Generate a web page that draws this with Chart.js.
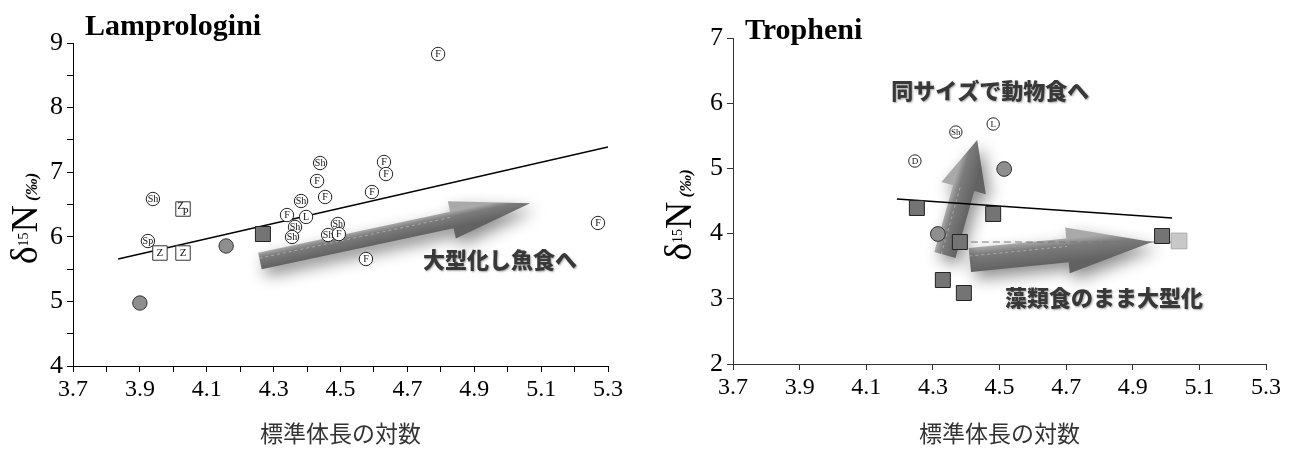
<!DOCTYPE html>
<html>
<head>
<meta charset="utf-8">
<script src="https://cdn.jsdelivr.net/npm/chart.js@4.4.1/dist/chart.umd.min.js"></script>
<style>
  html, body { margin: 0; padding: 0; background: #fff; }
  .panel { position: absolute; top: 0; width: 650px; height: 450px; }
</style>
</head>
<body>
<div class="panel" style="left:0"><canvas id="lamp" width="650" height="450"></canvas></div>
<div class="panel" style="left:650px"><canvas id="trop" width="650" height="450"></canvas></div>
<script>
// ---------- Lamprologini ----------
const lampTagX = [3.939, 3.924, 4.792, 4.439, 4.630, 4.636, 4.430, 4.454, 4.594, 4.382,
                  4.340, 4.397, 4.364, 4.355, 4.492, 4.463, 4.495, 4.576, 5.270]
const lampTagY = [6.585, 5.935, 8.830, 7.142, 7.158, 6.972, 6.864, 6.616, 6.693, 6.554,
                  6.337, 6.307, 6.152, 5.997, 6.198, 6.028, 6.043, 5.656, 6.214]
const lampTags = ['Sh', 'Sp', 'F', 'Sh', 'F', 'F', 'F', 'F', 'F', 'Sh',
                  'F', 'L', 'Sh', 'Sh', 'Sh', 'Sh', 'F', 'F', 'F']

const lampBoxX = [3.960, 4.029, 4.029]
const lampBoxY = [5.749, 5.749, 6.430]
const lampBoxTags = ['Z', 'Z', 'ZP']

const lampGrayX = [3.900, 4.158]
const lampGrayY = [4.975, 5.858]

const lampSquareX = [4.268]
const lampSquareY = [6.043]

const lampFitX = [3.835, 5.300]
const lampFitY = [5.656, 7.390]

// ---------- Tropheni ----------
const tropTagX = [4.246, 4.369, 4.481]
const tropTagY = [5.113, 5.558, 5.681]
const tropTags = ['D', 'Sh', 'L']

const tropGrayX = [4.514, 4.315]
const tropGrayY = [4.991, 3.994]

const tropSquareX = [4.252, 4.481, 4.381, 4.330, 4.393, 4.988]
const tropSquareY = [4.393, 4.301, 3.871, 3.288, 3.089, 3.963]

const tropLightX = [5.039]
const tropLightY = [3.887]

const tropFitX = [4.192, 5.018]
const tropFitY = [4.531, 4.239]

const tropDashX = [4.381, 5.039]
const tropDashY = [3.871, 3.871]

// ---------- ticks ----------
const lampXTicks = [3.7, 3.8, 3.9, 4.0, 4.1, 4.2, 4.3, 4.4, 4.5, 4.6, 4.7, 4.8, 4.9, 5.0, 5.1, 5.2, 5.3]
const tropXTicks = [3.7, 3.9, 4.1, 4.3, 4.5, 4.7, 4.9, 5.1, 5.3]
const xTickLabels = ['3.7', '3.9', '4.1', '4.3', '4.5', '4.7', '4.9', '5.1', '5.3']
const lampYTicks = [4, 4.5, 5, 5.5, 6, 6.5, 7, 7.5, 8, 8.5, 9]
const tropYTicks = [2, 3, 4, 5, 6, 7]
const xTitle = '標準体長の対数'

const zip = (xs, ys) => xs.map((x, i) => ({ x: x, y: ys[i] }))

const serif = '"Liberation Serif", "Times New Roman", serif'
const gothic = '"Noto Sans CJK JP", "Noto Sans", sans-serif'

/* letters inside the open circles / boxes, drawn right after their dataset */
const tagText = {
	id: 'tagText',
	afterDatasetDraw(chart, args) {
		const ds = chart.data.datasets[args.index]
		if (!ds.tags) return
		const ctx = chart.ctx
		ctx.save()
		ctx.fillStyle = '#111'
		ctx.textAlign = 'center'
		ctx.textBaseline = 'middle'
		ctx.font = ds.tagSize + 'px ' + serif
		args.meta.data.forEach((pt, i) => {
			const t = ds.tags[i]
			if (t === 'ZP') {
				ctx.fillText('Z', pt.x - 2.5, pt.y - 2.5)
				ctx.fillText('P', pt.x + 2.5, pt.y + 3)
			} else {
				ctx.fillText(t, pt.x, pt.y + 0.5)
			}
		})
		ctx.restore()
	}
}

/* arrows behind the points, captions on top */
const drawArrow = (ctx, a, b, shaft, headW, headL) => {
	const dx = b.x - a.x, dy = b.y - a.y
	const len = Math.hypot(dx, dy)
	const ux = dx / len, uy = dy / len
	const nx = -uy, ny = ux
	const nk = { x: b.x - ux * headL, y: b.y - uy * headL }
	const p = [
		[a.x - nx * shaft / 2, a.y - ny * shaft / 2],
		[nk.x - nx * shaft / 2, nk.y - ny * shaft / 2],
		[nk.x - nx * headW / 2, nk.y - ny * headW / 2],
		[b.x, b.y],
		[nk.x + nx * headW / 2, nk.y + ny * headW / 2],
		[nk.x + nx * shaft / 2, nk.y + ny * shaft / 2],
		[a.x + nx * shaft / 2, a.y + ny * shaft / 2]
	]
	ctx.save()
	const g = ctx.createLinearGradient(a.x - nx * shaft / 2, a.y - ny * shaft / 2, a.x + nx * shaft / 2, a.y + ny * shaft / 2)
	g.addColorStop(0, '#a9a9a9')
	g.addColorStop(0.3, '#7c7c7c')
	g.addColorStop(1, '#626262')
	ctx.shadowColor = 'rgba(0,0,0,0.45)'
	ctx.shadowBlur = 16
	ctx.shadowOffsetX = 5
	ctx.shadowOffsetY = 7
	ctx.fillStyle = g
	ctx.beginPath()
	ctx.moveTo(p[0][0], p[0][1])
	for (let i = 1; i < p.length; i++) ctx.lineTo(p[i][0], p[i][1])
	ctx.closePath()
	ctx.fill()
	ctx.shadowColor = 'transparent'
	// faint edge line of the 3D block
	ctx.strokeStyle = 'rgba(255,255,255,0.35)'
	ctx.setLineDash([3, 3])
	ctx.lineWidth = 1
	ctx.beginPath()
	ctx.moveTo(a.x - nx * shaft / 6, a.y - ny * shaft / 6)
	ctx.lineTo(nk.x - nx * shaft / 6, nk.y - ny * shaft / 6)
	ctx.stroke()
	ctx.restore()
}

const decor = {
	id: 'decor',
	beforeDatasetsDraw(chart, args, opts) {
		const { ctx, scales: { x, y } } = chart
		for (const ar of opts.arrows) {
			const a = { x: x.getPixelForValue(ar.from[0]), y: y.getPixelForValue(ar.from[1]) }
			const b = { x: x.getPixelForValue(ar.to[0]), y: y.getPixelForValue(ar.to[1]) }
			drawArrow(ctx, a, b, ar.shaft, ar.headW, ar.headL)
		}
	},
	afterDraw(chart, args, opts) {
		const { ctx, chartArea, scales: { x, y } } = chart
		ctx.save()
		// captions
		ctx.font = '900 22px ' + gothic
		ctx.textAlign = 'center'
		ctx.textBaseline = 'middle'
		for (const cap of opts.captions) {
			ctx.shadowColor = 'rgba(0,0,0,0.35)'
			ctx.shadowBlur = 2
			ctx.shadowOffsetX = 1
			ctx.shadowOffsetY = 1
			ctx.fillStyle = '#383838'
			ctx.fillText(cap.text, x.getPixelForValue(cap.at[0]), y.getPixelForValue(cap.at[1]))
		}
		ctx.shadowColor = 'transparent'
		// panel title
		ctx.font = 'bold 30px ' + serif
		ctx.textAlign = 'left'
		ctx.textBaseline = 'alphabetic'
		ctx.fillStyle = '#000'
		ctx.fillText(opts.title, opts.titleX, opts.titleY)
		// y axis title  δ15N (‰)
		const parts = [
			{ t: 'δ', f: '38px ' + serif, dy: 0 },
			{ t: '15', f: '14px ' + serif, dy: -9 },
			{ t: 'N', f: '38px ' + serif, dy: 0 },
			{ t: ' ', f: '16px ' + serif, dy: 0 },
			{ t: '(‰)', f: 'bold italic 17px ' + serif, dy: 0 }
		]
		let total = 0
		for (const pt of parts) { ctx.font = pt.f; pt.w = ctx.measureText(pt.t).width; total += pt.w }
		ctx.translate(opts.yTitleX, (chartArea.top + chartArea.bottom) / 2 + 14)
		ctx.rotate(-Math.PI / 2)
		let cx = -total / 2
		for (const pt of parts) {
			ctx.font = pt.f
			ctx.fillText(pt.t, cx, pt.dy)
			cx += pt.w
		}
		ctx.restore()
	}
}

const scaleSet = (xTicks, yTicks, yMin, yMax, yWidth, xHeight, axisColor) => ({
	x: {
		type: 'linear',
		min: 3.7,
		max: 5.3,
		afterBuildTicks: (s) => { s.ticks = xTicks.map(v => ({ value: v })) },
		afterFit: (s) => { s.height = xHeight },
		grid: { drawOnChartArea: false, tickLength: 6, color: axisColor, lineWidth: 1 },
		border: { color: axisColor, width: 1 },
		ticks: {
			autoSkip: false,
			maxRotation: 0,
			padding: 3,
			color: '#000',
			font: { family: serif, size: 24 },
			callback: (v) => xTickLabels.includes(v.toFixed(1)) ? v.toFixed(1) : ''
		},
		title: {
			display: true,
			text: xTitle,
			color: '#333',
			font: { family: gothic, size: 23 },
			padding: { top: 4, bottom: 3 }
		}
	},
	y: {
		type: 'linear',
		min: yMin,
		max: yMax,
		afterBuildTicks: (s) => { s.ticks = yTicks.map(v => ({ value: v })) },
		afterFit: (s) => { s.width = yWidth },
		grid: { drawOnChartArea: false, tickLength: 6, color: axisColor, lineWidth: 1 },
		border: { color: axisColor, width: 1 },
		ticks: {
			autoSkip: false,
			padding: 4,
			color: '#000',
			font: { family: serif, size: 26 },
			callback: (v) => Number.isInteger(v) ? String(v) : ''
		}
	}
})

Chart.defaults.animation = false
Chart.defaults.plugins.legend.display = false
Chart.defaults.plugins.tooltip.enabled = false

new Chart(document.getElementById('lamp').getContext('2d'), {
	type: 'scatter',
	data: {
		datasets: [
			{
				data: zip(lampTagX, lampTagY),
				tags: lampTags,
				tagSize: 10,
				pointStyle: 'circle',
				pointRadius: 6.7,
				backgroundColor: '#fff',
				borderColor: '#222',
				borderWidth: 1
			},
			{
				data: zip(lampBoxX, lampBoxY),
				tags: lampBoxTags,
				tagSize: 11,
				pointStyle: 'rect',
				pointRadius: 10.2,
				backgroundColor: '#fff',
				borderColor: '#333',
				borderWidth: 1
			},
			{
				data: zip(lampSquareX, lampSquareY),
				pointStyle: 'rect',
				pointRadius: 10.6,
				backgroundColor: '#747474',
				borderColor: '#222',
				borderWidth: 1
			},
			{
				data: zip(lampGrayX, lampGrayY),
				pointStyle: 'circle',
				pointRadius: 7.2,
				backgroundColor: '#8e8e8e',
				borderColor: '#333',
				borderWidth: 1
			},
			{
				data: zip(lampFitX, lampFitY),
				showLine: true,
				pointRadius: 0,
				borderColor: '#000',
				borderWidth: 1.5
			}
		]
	},
	options: {
		responsive: false,
		layout: { padding: { top: 43, right: 42, left: 0, bottom: 0 } },
		scales: scaleSet(lampXTicks, lampYTicks, 4, 9, 73, 84, '#000'),
		plugins: {
			decor: {
				title: 'Lamprologini',
				titleX: 85,
				titleY: 35,
				yTitleX: 37,
				arrows: [
					{ from: [4.259, 5.625], to: [5.067, 6.52], shaft: 17, headW: 38, headL: 80 }
				],
				captions: [
					{ text: '大型化し魚食へ', at: [4.977, 5.641] }
				]
			}
		}
	},
	plugins: [decor, tagText]
})

new Chart(document.getElementById('trop').getContext('2d'), {
	type: 'scatter',
	data: {
		datasets: [
			{
				data: zip(tropTagX, tropTagY),
				tags: tropTags,
				tagSize: 9,
				pointStyle: 'circle',
				pointRadius: 6.2,
				backgroundColor: '#fff',
				borderColor: '#222',
				borderWidth: 1
			},
			{
				data: zip(tropSquareX, tropSquareY),
				pointStyle: 'rect',
				pointRadius: 10.6,
				backgroundColor: '#747474',
				borderColor: '#222',
				borderWidth: 1
			},
			{
				data: zip(tropLightX, tropLightY),
				pointStyle: 'rect',
				pointRadius: 11.1,
				backgroundColor: '#c8c8c8',
				borderColor: '#a8a8a8',
				borderWidth: 1
			},
			{
				data: zip(tropGrayX, tropGrayY),
				pointStyle: 'circle',
				pointRadius: 7.4,
				backgroundColor: '#8e8e8e',
				borderColor: '#333',
				borderWidth: 1
			},
			{
				data: zip(tropDashX, tropDashY),
				showLine: true,
				pointRadius: 0,
				borderColor: '#777',
				borderWidth: 1,
				borderDash: [7, 4]
			},
			{
				data: zip(tropFitX, tropFitY),
				showLine: true,
				pointRadius: 0,
				borderColor: '#000',
				borderWidth: 1.5
			}
		]
	},
	options: {
		responsive: false,
		layout: { padding: { top: 38, right: 34, left: 0, bottom: 0 } },
		scales: scaleSet(tropXTicks, tropYTicks, 2, 7, 83, 86, '#333'),
		plugins: {
			decor: {
				title: 'Tropheni',
				titleX: 95,
				titleY: 39,
				yTitleX: 41,
				arrows: [
					{ from: [4.411, 3.595], to: [4.958, 3.871], shaft: 24, headW: 46, headL: 85 },
					{ from: [4.336, 3.672], to: [4.433, 5.436], shaft: 22, headW: 46, headL: 50 }
				],
				captions: [
					{ text: '同サイズで動物食へ', at: [4.472, 6.2] },
					{ text: '藻類食のまま大型化', at: [4.814, 3.012] }
				]
			}
		}
	},
	plugins: [decor, tagText]
})
</script>
</body>
</html>
